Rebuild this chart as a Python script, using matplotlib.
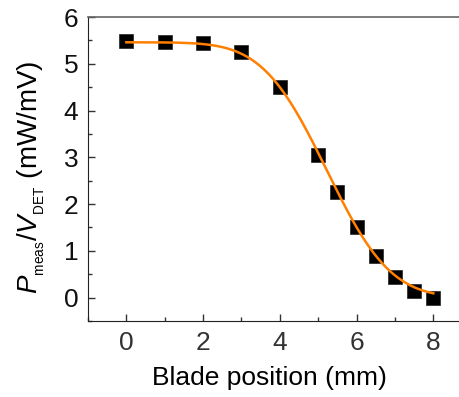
import math
import numpy as np
import matplotlib
matplotlib.use('Agg')
import matplotlib.pyplot as plt
from matplotlib.ticker import MultipleLocator

plt.rcParams['font.family'] = 'Liberation Sans'
plt.rcParams['mathtext.fontset'] = 'custom'
plt.rcParams['mathtext.rm'] = 'Liberation Sans'
plt.rcParams['mathtext.it'] = 'Liberation Sans:italic'

# knife-edge scan: blade position (mm) vs normalised power
position = [0, 1, 2, 3, 4, 5, 5.5, 6, 6.5, 7, 7.5, 8]
power = [5.48, 5.47, 5.45, 5.25, 4.50, 3.05, 2.25, 1.50, 0.88, 0.44, 0.14, 0.0]

# error-function fit parameters
amp = 5.46
x0 = 5.22
w = 2.62
offset = 0.0

xf = np.linspace(0, 8, 300)
yf = np.array([offset + amp / 2 * math.erfc(math.sqrt(2) * (x - x0) / w) for x in xf])

fig = plt.figure(figsize=(4.59, 3.97), dpi=100)
ax = fig.add_axes([0.1917, 0.1914, 0.82, 0.7657])

ax.plot(position, power, 's', color='black', markersize=9.5,
        markeredgecolor='#222222', markeredgewidth=0.5, zorder=2)
ax.plot(xf, yf, '-', color='#ff7f00', lw=1.8, zorder=3)

ax.set_xlim(-1, 8.81)
ax.set_ylim(-0.5, 6)
ax.xaxis.set_major_locator(MultipleLocator(2))
ax.xaxis.set_minor_locator(MultipleLocator(1))
ax.yaxis.set_major_locator(MultipleLocator(1))
ax.yaxis.set_minor_locator(MultipleLocator(0.5))

ax.tick_params(which='both', direction='in', top=False, right=False,
               colors='#333333', labelsize=19)
ax.tick_params(which='major', length=5, width=1)
ax.tick_params(which='minor', length=3, width=1)
ax.tick_params(axis='y', pad=7, labelcolor='#111111')
ax.tick_params(axis='x', pad=7)

ax.spines['right'].set_visible(False)
ax.spines['top'].set_color('#666666')
ax.spines['top'].set_linewidth(1.2)
ax.spines['left'].set_color('#222222')
ax.spines['bottom'].set_color('#222222')

ax.set_xlabel('Blade position (mm)', fontsize=19, labelpad=8)
ax.set_ylabel(r'$P_{_{\rm meas}}/V_{_{\rm DET}}$ (mW/mV)', fontsize=20, labelpad=12)
ax.xaxis.label.set_x(0.481)
ax.yaxis.label.set_y(0.474)

fig.savefig('out.png', dpi=100)
